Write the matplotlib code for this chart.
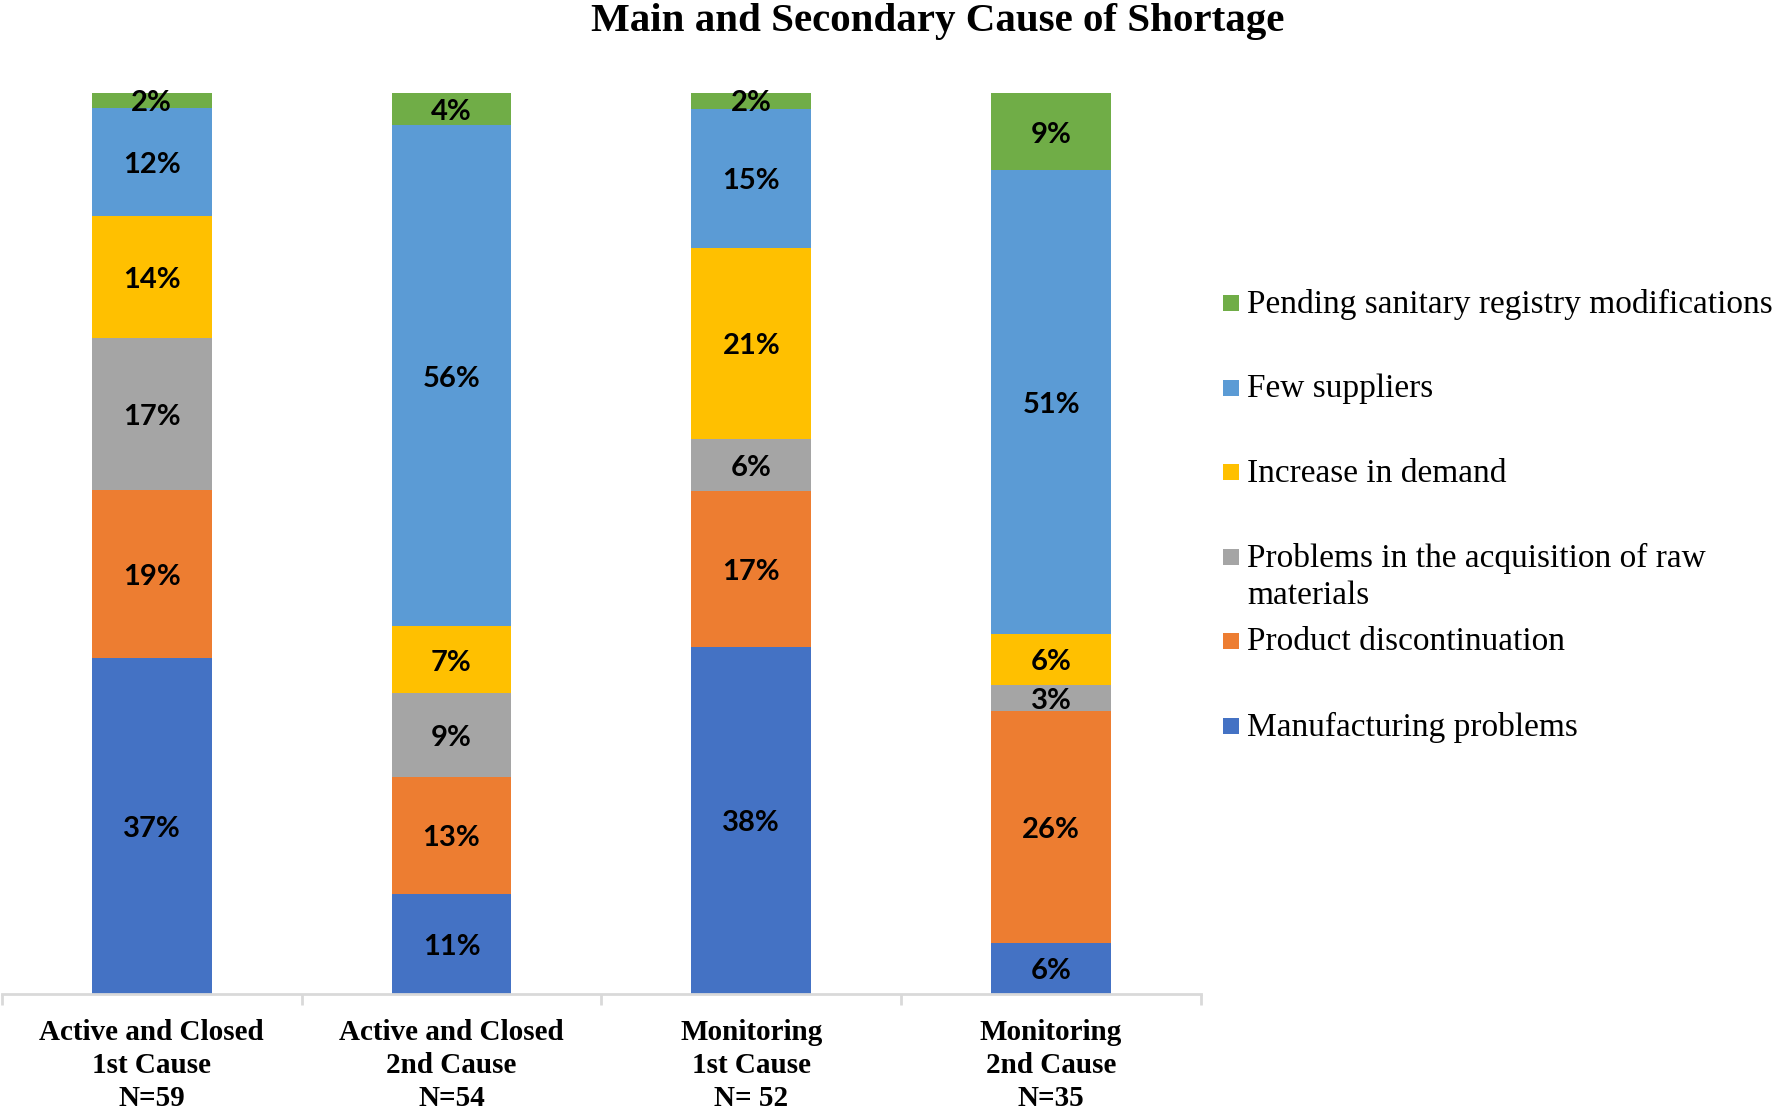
import matplotlib
matplotlib.use("Agg")
import matplotlib.pyplot as plt
import numpy as np
from matplotlib.patches import Rectangle

# ---- data ----
categories = ["Active and Closed\n1st Cause\nN=59",
              "Active and Closed\n2nd Cause\nN=54",
              "Monitoring\n1st Cause\nN= 52",
              "Monitoring\n2nd Cause\nN=35"]
series_names = ["Manufacturing problems",
                "Product discontinuation",
                "Problems in the acquisition of raw\nmaterials",
                "Increase in demand",
                "Few suppliers",
                "Pending sanitary registry modifications"]
manufacturing = [37.3, 11.1, 38.5, 5.7]
discontinuation = [18.6, 13.0, 17.3, 25.7]
raw_materials = [16.9, 9.3, 5.8, 2.9]
demand = [13.6, 7.4, 21.2, 5.7]
few_suppliers = [11.9, 55.6, 15.4, 51.4]
registry = [1.7, 3.7, 1.9, 8.6]
colors = ["#4472C4", "#ED7D31", "#A5A5A5", "#FFC000", "#5B9BD5", "#70AD47"]
title = "Main and Secondary Cause of Shortage"

series = [manufacturing, discontinuation, raw_materials, demand, few_suppliers, registry]

W, H, DPI = 1776, 1112, 100
fig = plt.figure(figsize=(W / DPI, H / DPI), dpi=DPI)
ax = fig.add_axes([0.001, 1 - 994 / H, 1201 / W - 0.001, (994 - 93) / H])

x = np.arange(len(categories))
bottom = np.zeros(len(categories))
for vals, col in zip(series, colors):
    vals = np.array(vals)
    ax.bar(x, vals, 0.40, bottom=bottom, color=col, linewidth=0)
    for xi, b, v in zip(x, bottom, vals):
        ax.annotate(f"{v:.0f}%", (xi, b + v / 2), xytext=(0, -2), textcoords="offset points",
                    ha="center", va="center",
                    fontfamily="Lato", fontweight="bold", fontsize=21, color="black")
    bottom += vals

ax.set_xlim(-0.5, len(categories) - 0.5)
ax.set_ylim(0, 100)
ax.set_yticks([])
for s in ["left", "right", "top"]:
    ax.spines[s].set_visible(False)
ax.spines["bottom"].set_color("#D9D9D9")
ax.spines["bottom"].set_linewidth(2)
ax.set_xticks(x)
ax.set_xticklabels(categories, fontfamily="Liberation Serif", fontweight="bold",
                   fontsize=21, linespacing=1.28)
ax.tick_params(axis="x", which="major", length=0, pad=18)
ax.set_xticks(np.arange(-0.5, len(categories), 1.0), minor=True)
ax.tick_params(axis="x", which="minor", length=8, width=2, color="#D9D9D9")

fig.text(938 / W, 1 - 22 / H, title, ha="center", va="center",
         fontfamily="Liberation Serif", fontweight="bold", fontsize=29.5)

# ---- legend (reversed order, green on top) ----
y0 = 303
pitch = 84.5
msize = 16
for i, (name, col) in enumerate(zip(series_names[::-1], colors[::-1])):
    yc = y0 + i * pitch
    fig.patches.append(Rectangle((1223 / W, 1 - (yc + msize / 2) / H), msize / W, msize / H,
                                 transform=fig.transFigure, facecolor=col, edgecolor="none"))
    fig.text(1247 / W, 1 - (yc - 14) / H, name, ha="left", va="top",
             fontfamily="Liberation Serif", fontsize=24, linespacing=1.3)

fig.savefig("out.png", dpi=DPI)
